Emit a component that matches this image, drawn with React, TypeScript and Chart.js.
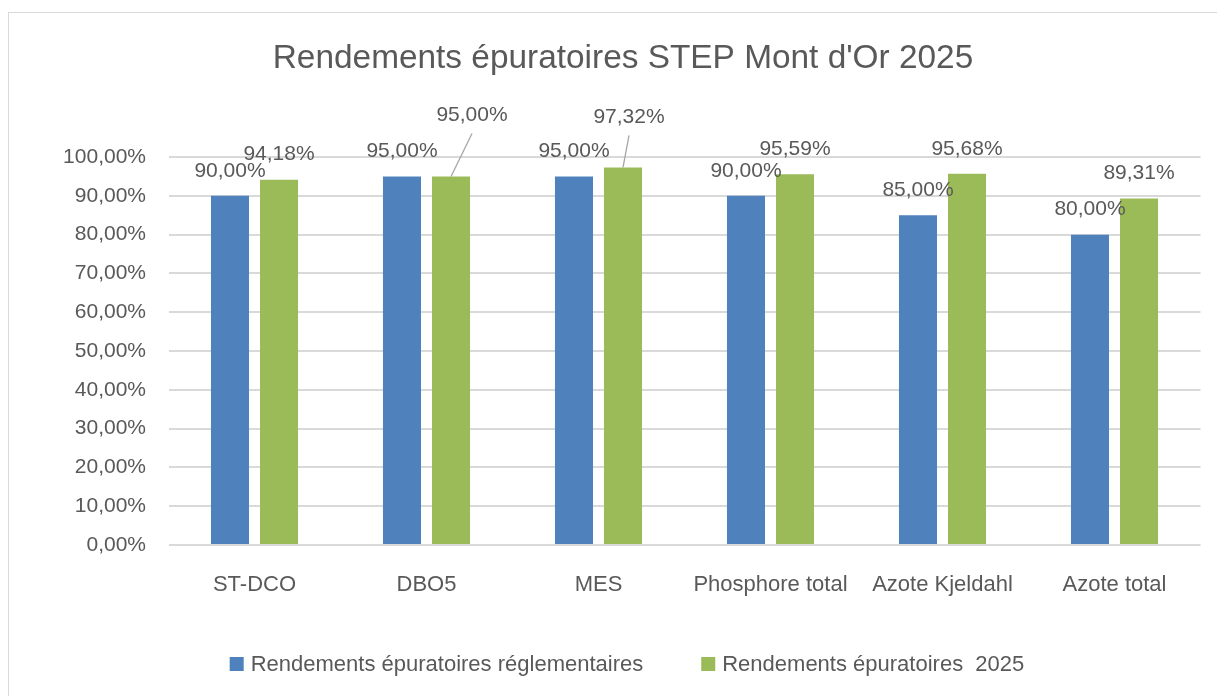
import React, { useEffect, useRef } from "react";
import { Chart, registerables } from "chart.js";

Chart.register(...registerables);

// ---- Data ----
const title = "Rendements épuratoires STEP Mont d'Or 2025";
const categories = ["ST-DCO", "DBO5", "MES", "Phosphore total", "Azote Kjeldahl", "Azote total"];
const seriesNames = ["Rendements épuratoires réglementaires", "Rendements épuratoires  2025"];
const reglementaires = [0.9, 0.95, 0.95, 0.9, 0.85, 0.8];
const rendements2025 = [0.9418, 0.95, 0.9732, 0.9559, 0.9568, 0.8931];
const yMin = 0;
const yMax = 1;
const yStep = 0.1;

// ---- Styling ----
const FONT = '"Liberation Sans", Arial, sans-serif';
const TEXT = "#595959";
const GRID = "#d9d9d9";
const COLORS = ["#4f81bd", "#9bbb59"];
// data labels that were dragged away from their bar (dataset, category, dx, dy)
const movedLabels: [number, number, number, number][] = [
  [1, 1, 21, -36],
  [1, 2, 6, -25],
];

const fmt = (v: number) => (v * 100).toFixed(2).replace(".", ",") + "%";

const dataLabelPlugin = {
  id: "dataLabels",
  afterDatasetsDraw(chart: any) {
    const ctx = chart.ctx;
    ctx.save();
    ctx.font = `21px ${FONT}`;
    ctx.fillStyle = TEXT;
    ctx.textAlign = "center";
    ctx.textBaseline = "middle";
    chart.data.datasets.forEach((ds: any, di: number) => {
      const meta = chart.getDatasetMeta(di);
      meta.data.forEach((bar: any, i: number) => {
        const { x, y } = bar.getProps(["x", "y"], true);
        const mv = movedLabels.find((m) => m[0] === di && m[1] === i);
        const lx = x + (mv ? mv[2] : 0);
        const ly = y - 25 + (mv ? mv[3] : 0);
        if (mv) {
          ctx.save();
          ctx.strokeStyle = "#a6a6a6";
          ctx.lineWidth = 1.3;
          ctx.beginPath();
          ctx.moveTo(x, y);
          ctx.lineTo(lx, ly + 18);
          ctx.stroke();
          ctx.restore();
        }
        ctx.fillText(fmt(ds.data[i]), lx, ly);
      });
    });
    ctx.restore();
  },
};

const legendPlugin = {
  id: "customLegend",
  afterDraw(chart: any) {
    const ctx = chart.ctx;
    ctx.save();
    ctx.font = `22px ${FONT}`;
    ctx.textBaseline = "middle";
    ctx.textAlign = "left";
    const box = 14;
    const gap = 7;
    const spacing = 58;
    const items = chart.data.datasets.map((ds: any) => ({
      label: ds.label,
      color: ds.backgroundColor,
      w: ctx.measureText(ds.label).width,
    }));
    const total =
      items.reduce((s: number, it: any) => s + box + gap + it.w, 0) + spacing * (items.length - 1);
    let x = chart.width / 2 - total / 2 + 4;
    const yc = chart.chartArea.bottom + 119;
    items.forEach((it: any) => {
      ctx.fillStyle = it.color;
      ctx.fillRect(x, yc - box / 2, box, box);
      ctx.fillStyle = TEXT;
      ctx.fillText(it.label, x + box + gap, yc + 1);
      x += box + gap + it.w + spacing;
    });
    ctx.restore();
  },
};

export default function App() {
  const canvasRef = useRef<HTMLCanvasElement | null>(null);

  useEffect(() => {
    if (!canvasRef.current) return;
    const chart = new Chart(canvasRef.current, {
      type: "bar",
      data: {
        labels: categories,
        datasets: [
          {
            label: seriesNames[0],
            data: reglementaires,
            backgroundColor: COLORS[0],
            categoryPercentage: 0.57,
            barPercentage: 0.776,
          },
          {
            label: seriesNames[1],
            data: rendements2025,
            backgroundColor: COLORS[1],
            categoryPercentage: 0.57,
            barPercentage: 0.776,
          },
        ],
      },
      options: {
        animation: false,
        responsive: false,
        devicePixelRatio: 1,
        layout: { padding: { left: 37.5, right: 37.5, top: 0, bottom: 0 } },
        plugins: {
          legend: { display: false },
          tooltip: { enabled: false },
          title: {
            display: true,
            text: title,
            color: TEXT,
            font: { family: FONT, size: 33.4, weight: "normal" },
            padding: { top: 31, bottom: 78 },
          },
        },
        scales: {
          x: {
            grid: { display: false },
            border: { display: false },
            ticks: {
              color: TEXT,
              font: { family: FONT, size: 22 },
              padding: 19,
              maxRotation: 0,
              autoSkip: false,
            },
            afterFit: (scale: any) => {
              scale.height = 151;
            },
          },
          y: {
            min: yMin,
            max: yMax,
            grid: { color: GRID, lineWidth: 2, drawTicks: false },
            border: { display: false },
            ticks: {
              stepSize: yStep,
              color: TEXT,
              font: { family: FONT, size: 21 },
              padding: 22.5,
              callback: (v: any) => fmt(Number(v)),
            },
            afterFit: (scale: any) => {
              scale.width = 123;
            },
          },
        },
      },
      plugins: [dataLabelPlugin, legendPlugin],
    });
    return () => chart.destroy();
  }, []);

  return (
    <div style={{ position: "relative", width: 1217, height: 688, overflow: "hidden", background: "#fff" }}>
      <div
        style={{
          position: "absolute",
          left: 0,
          top: 4,
          width: 1300,
          height: 800,
          border: "1px solid #d9d9d9",
          boxSizing: "border-box",
        }}
      />
      <canvas
        ref={canvasRef}
        width={1230}
        height={688}
        style={{ position: "absolute", left: 0, top: 0, width: 1230, height: 688 }}
      />
    </div>
  );
}
